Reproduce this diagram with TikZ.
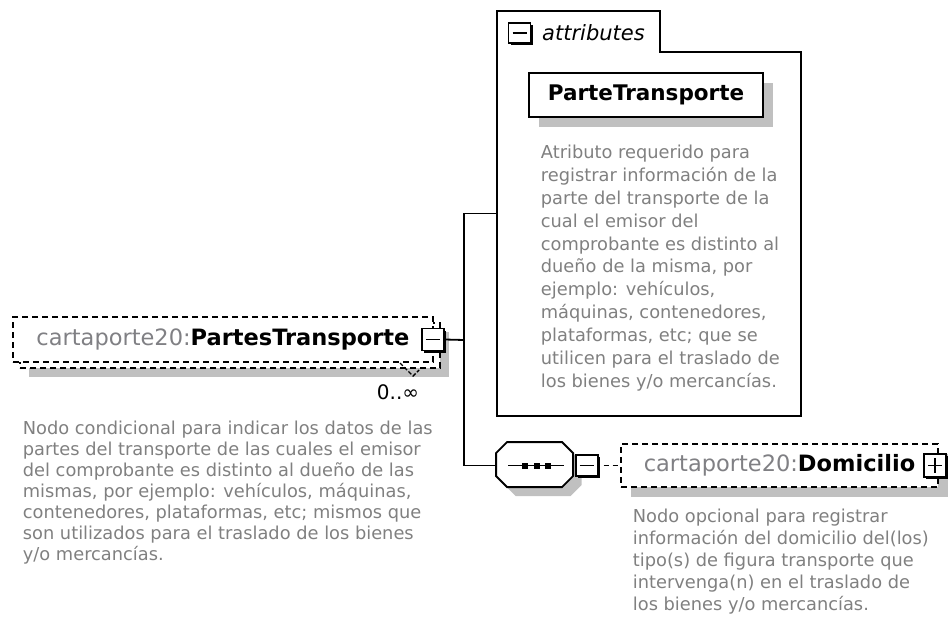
\documentclass[tikz,border=0pt]{standalone}
\usepackage{fontspec}
\setmainfont{DejaVu Sans}
\usetikzlibrary{shadows}
\definecolor{pfxgray}{RGB}{128,128,132}
\definecolor{descgray}{RGB}{128,128,128}
\definecolor{shadowgray}{RGB}{192,192,192}
\newcommand{\elname}[2]{{\color{pfxgray}#1:}\textbf{#2}}
\newcommand{\btnminus}{\draw[line width=1.8pt] ([xshift=4pt]path picture bounding box.west) -- ([xshift=-4pt]path picture bounding box.east);}
\begin{document}
\begin{tikzpicture}
		[x=1pt,y=-1pt,line width=1.8pt,
		shade/.style={drop shadow={shadow xshift=#1, shadow yshift=-#1, fill=shadowgray, opacity=1}},
		namebox/.style={draw, dash pattern=on 6pt off 4pt, line width=1.8pt, fill=white,
			minimum height=45, inner sep=0, font=\fontsize{22.5}{26}\selectfont},
		btnbase/.style={draw, fill=white, line width=1.6pt, inner sep=0,
			minimum width=22, minimum height=22,
			drop shadow={shadow xshift=2.2pt, shadow yshift=-2.2pt, fill=black, opacity=1}},
		minusbtn/.style={btnbase, path picture={\btnminus}},
		plusbtn/.style={btnbase, path picture={\btnminus
			\draw[line width=1.8pt] ([yshift=-4pt]path picture bounding box.north) -- ([yshift=4pt]path picture bounding box.south);}},
		desc/.style={anchor=north west, align=left, inner sep=0, text=descgray}]
		\useasboundingbox (0,0) rectangle (949,623);
		% PartesTransporte
		\node[namebox, shade=9pt, minimum width=420] (mainBack) at (230,345.5) {};
		\node[namebox, minimum width=420] (mainEl) at (223,339.5) {\elname{cartaporte20}{PartesTransporte}\hspace{10pt}};
		\node[minusbtn] (btnMain) at ([xshift=-1pt]mainEl.east) {};
		\draw[dash pattern=on 4pt off 2pt, line width=1.4pt] (400,363) -- (413,376) -- (419,370);
		\node[font=\fontsize{20}{24}\selectfont, inner sep=0] (card) at (398,392) {0..∞};
		\node[desc, font=\fontsize{17.8}{21}\selectfont] (mainDesc) at (22,420)
			{Nodo condicional para indicar los datos de las\\
			partes del transporte de las cuales el emisor\\
			del comprobante es distinto al dueño de las\\
			mismas, por ejemplo: vehículos, máquinas,\\
			contenedores, plataformas, etc; mismos que\\
			son utilizados para el traslado de los bienes\\
			y/o mercancías.};
		% attributes
		\node[minimum width=302, minimum height=403, inner sep=0] (attr) at (649,213.5) {};
		\draw (attr.south west) -- (attr.north west) -- ++(163,0) -- ++(0,41) -| (attr.south east) -- cycle;
		\node[minusbtn, minimum height=20] (btnAttr) at (519.5,33) {};
		\node[anchor=west, inner sep=0, font=\fontsize{21}{25}\itshape] (attrTitle) at ([xshift=10pt]btnAttr.east) {attributes};
		\node[draw, fill=white, line width=1.8pt, shade=10pt, minimum width=234, minimum height=44,
			font=\fontsize{21.5}{26}\bfseries] (attrName) at (646,95) {ParteTransporte};
		\node[desc, font=\fontsize{17.8}{22.9}\selectfont] (attrDesc) at (540,144)
			{Atributo requerido para\\
			registrar información de la\\
			parte del transporte de la\\
			cual el emisor del\\
			comprobante es distinto al\\
			dueño de la misma, por\\
			ejemplo: vehículos,\\
			máquinas, contenedores,\\
			plataformas, etc; que se\\
			utilicen para el traslado de\\
			los bienes y/o mercancías.};
		% sequence
		\node[minimum width=77, minimum height=45, inner sep=0] (seq) at (535.5,465.5) {};
		\fill[shadowgray] ([shift={(8.5,9)}]seq.north west) ++(11,0) -- ++(55,0) -- ++(11,11) -- ++(0,23)
			-- ++(-11,11) -- ++(-55,0) -- ++(-11,-11) -- ++(0,-23) -- cycle;
		\draw[fill=white] (seq.north west) ++(11,0) -- ++(55,0) -- ++(11,11) -- ++(0,23)
			-- ++(-11,11) -- ++(-55,0) -- ++(-11,-11) -- ++(0,-23) -- cycle;
		\draw ([xshift=12pt]seq.west) -- ([xshift=-11pt]seq.east);
		\foreach \dx in {-11,1,12}
			\fill ([xshift=\dx pt]seq.center) ++(-3,-3) rectangle ++(6,6);
		\node[minusbtn, minimum height=21, anchor=west] (btnSeq) at (seq.east) {};
		% Domicilio
		\node[namebox, shade=9.5pt, minimum width=317, minimum height=43] (dom) at (779.5,465.5)
			{\elname{cartaporte20}{Domicilio}\hspace{26pt}};
		\node[plusbtn, minimum height=23] (btnDom) at ([xshift=-4pt]dom.east) {};
		\node[desc, font=\fontsize{17.8}{22}\selectfont] (domDesc) at (632,508)
			{Nodo opcional para registrar\\
			información del domicilio del(los)\\
			tipo(s) de figura transporte que\\
			intervenga(n) en el traslado de\\
			los bienes y/o mercancías.};
		% connectors
		\coordinate (fork) at (464,340);
		\draw (btnMain.east) -- (fork);
		\draw (attr.west) -- (fork |- attr.west) -- (fork |- seq.west) -- (seq.west);
		\draw[dash pattern=on 5pt off 4pt] ([xshift=5pt]btnSeq.east) -- (dom.west);
	\end{tikzpicture}
\end{document}
